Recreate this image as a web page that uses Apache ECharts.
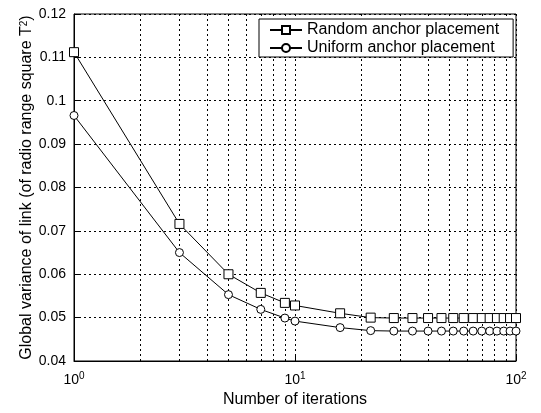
<!DOCTYPE html>
<html>
<head>
<meta charset="utf-8">
<script src="https://cdn.jsdelivr.net/npm/echarts@6/dist/echarts.min.js"></script>
<style>html,body{margin:0;padding:0;background:#fff}#c{width:541px;height:413px}</style>
</head>
<body>
<div id="c"></div>
<script>
var iterations = [1, 3, 5, 7, 9, 10, 16, 22, 28, 34, 40, 46, 52, 58, 64, 70, 76, 82, 88, 94, 100];
var randomPlacement = [0.1112, 0.0716, 0.0600, 0.0557, 0.0534, 0.0528, 0.0510, 0.0500, 0.0499, 0.0499, 0.0499, 0.0499, 0.0499, 0.0499, 0.0499, 0.0499, 0.0499, 0.0499, 0.0499, 0.0499, 0.0499];
var uniformPlacement = [0.0966, 0.0650, 0.0553, 0.0519, 0.0499, 0.0492, 0.0477, 0.0470, 0.0469, 0.0469, 0.0469, 0.0469, 0.0469, 0.0469, 0.0469, 0.0469, 0.0469, 0.0469, 0.0469, 0.0469, 0.0469];
var minorGridX = [2, 3, 4, 5, 6, 7, 8, 9, 20, 30, 40, 50, 60, 70, 80, 90];
var seriesNames = ['Random anchor placement', 'Uniform anchor placement'];
var yTicks = {min: 0.04, max: 0.12, interval: 0.01};

var FONT = '"Liberation Sans", Arial, Helvetica, sans-serif';
var gridStyle = {color: '#000', width: 1, type: [2, 3]};

function pairs(xs, ys) { return xs.map(function (x, i) { return [x, ys[i]]; }); }

var chart = echarts.init(document.getElementById('c'), null, {renderer: 'canvas'});
chart.setOption({
  animation: false,
  backgroundColor: '#fff',
  textStyle: {fontFamily: FONT, color: '#000'},
  grid: {left: 74, right: 25, top: 14, bottom: 50, show: true, borderColor: '#000', borderWidth: 1},
  legend: {
    orient: 'vertical', left: 259, top: 19,
    padding: [3, 14, 1, 10],
    itemGap: 2, itemWidth: 32, itemHeight: 10,
    borderColor: '#000', borderWidth: 1, backgroundColor: '#fff',
    textStyle: {fontFamily: FONT, fontSize: 16, color: '#000'},
    data: seriesNames
  },
  xAxis: {
    type: 'log', logBase: 10, min: 1, max: 100,
    name: 'Number of iterations', nameLocation: 'middle', nameGap: 31, nameMoveOverlap: false,
    nameTextStyle: {fontFamily: FONT, fontSize: 16, color: '#000'},
    axisLine: {show: true, lineStyle: {color: '#000'}},
    axisTick: {show: true, inside: true, length: 5, lineStyle: {color: '#000'}},
    splitLine: {show: true, lineStyle: gridStyle},
    axisLabel: {
      margin: 10, color: '#000', fontFamily: FONT, fontSize: 14, lineHeight: 18,
      formatter: function (v) { return '10{sup|' + Math.round(Math.log10(v)) + '}'; },
      rich: {sup: {fontSize: 10, fontFamily: FONT, color: '#000', verticalAlign: 'top', lineHeight: 12}}
    }
  },
  yAxis: {
    type: 'value', min: yTicks.min, max: yTicks.max, interval: yTicks.interval,
    name: 'Global variance of link (of radio range square T{sup|2})',
    nameLocation: 'middle', nameGap: 39, nameRotate: 90, nameMoveOverlap: false,
    nameTextStyle: {fontFamily: FONT, fontSize: 16, color: '#000',
      rich: {sup: {fontSize: 10, fontFamily: FONT, color: '#000', verticalAlign: 'top', lineHeight: 12}}},
    axisLine: {show: true, lineStyle: {color: '#000'}},
    axisTick: {show: true, inside: true, length: 5, lineStyle: {color: '#000'}},
    splitLine: {show: true, lineStyle: gridStyle},
    axisLabel: {
      margin: 8, color: '#000', fontFamily: FONT, fontSize: 14,
      formatter: function (v) { return String(+v.toFixed(2)); }
    }
  },
  series: [
    {
      name: seriesNames[0], type: 'line', data: pairs(iterations, randomPlacement),
      symbol: 'rect', symbolSize: 9, showAllSymbol: true, z: 5,
      lineStyle: {color: '#000', width: 1},
      itemStyle: {color: '#fff', borderColor: '#000', borderWidth: 1},
      markLine: {
        silent: true, symbol: ['none', 'none'], label: {show: false},
        lineStyle: gridStyle, z: 1,
        data: minorGridX.map(function (x) { return {xAxis: x}; })
      }
    },
    {
      name: seriesNames[1], type: 'line', data: pairs(iterations, uniformPlacement),
      symbol: 'circle', symbolSize: 8, showAllSymbol: true, z: 5,
      lineStyle: {color: '#000', width: 1},
      itemStyle: {color: '#fff', borderColor: '#000', borderWidth: 1}
    }
  ]
});
</script>
</body>
</html>
